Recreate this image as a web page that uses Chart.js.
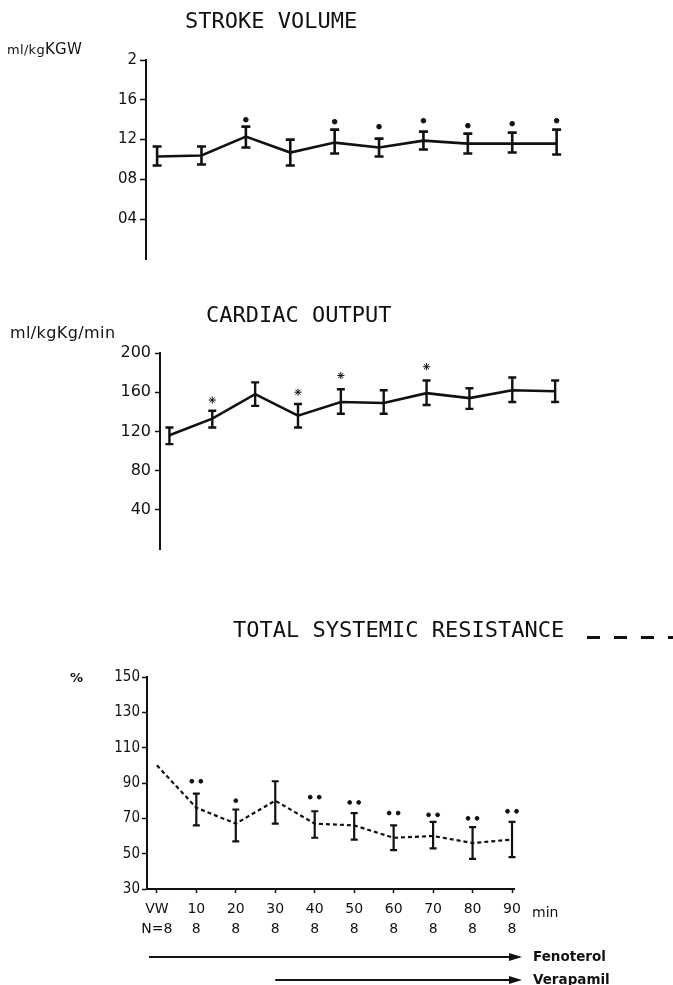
<!DOCTYPE html>
<html>
<head>
<meta charset="utf-8">
<script src="https://cdn.jsdelivr.net/npm/chart.js@4"></script>
<style>
  html, body { margin: 0; background: #fff; }
  #page { position: relative; width: 673px; height: 985px; overflow: hidden; color: #111; }
  #page canvas { position: absolute; left: 0; top: 0; }
  .t { position: absolute; white-space: nowrap; line-height: 1; }
  .title { font-size: 22px; font-family: 'DejaVu Sans Mono', monospace; }
  .unit { font-family: 'DejaVu Sans', sans-serif; }
  .drug { font: bold 13.5px 'DejaVu Sans', sans-serif; }
  .legend-dash { position: absolute; height: 3px; background: repeating-linear-gradient(90deg, #111 0 13px, transparent 13px 27px); }
</style>
</head>
<body>
<div id="page">
  <canvas id="sv" width="673" height="985"></canvas>
  <canvas id="co" width="673" height="985"></canvas>
  <canvas id="tsr" width="673" height="985"></canvas>

  <div class="t title" style="left:185px; top:10px">STROKE VOLUME</div>
  <div class="t unit" style="left:7px; top:42px; font-size:13px; letter-spacing:0.3px">ml/kg<span style="font-size:15px">KGW</span></div>

  <div class="t title" style="left:206px; top:304px">CARDIAC OUTPUT</div>
  <div class="t unit" style="left:10px; top:325px; font-size:16px; letter-spacing:0.4px">ml/kgKg/min</div>

  <div class="t title" style="left:233px; top:619px">TOTAL SYSTEMIC RESISTANCE</div>
  <div class="legend-dash" style="left:587px; top:636px; width:86px"></div>
  <div class="t unit" style="left:70px; top:671px; font-size:13px; font-weight:bold">%</div>
  <div class="t unit" style="left:532px; top:905px; font-size:14px">min</div>

  <div class="t drug" style="left:533px; top:948px">Fenoterol</div>
  <div class="t drug" style="left:533px; top:971px">Verapamil</div>
</div>
<script>
const ink = '#111';

// time points and group size
const minutes = ['VW', '10', '20', '30', '40', '50', '60', '70', '80', '90'];
const groupN = ['N=8', '8', '8', '8', '8', '8', '8', '8', '8', '8'];

// stroke volume (ml/kg KGW): mean, error bar ends, significance dot heights
const svMean  = [1.03, 1.04, 1.23, 1.07, 1.17, 1.12, 1.19, 1.16, 1.16, 1.16];
const svUpper = [1.13, 1.13, 1.33, 1.20, 1.30, 1.21, 1.28, 1.26, 1.27, 1.30];
const svLower = [0.94, 0.95, 1.12, 0.94, 1.06, 1.03, 1.10, 1.06, 1.07, 1.05];
const svMarks = [null, null, 1.40, null, 1.38, 1.33, 1.39, 1.34, 1.36, 1.39];
const svTicks = [0.4, 0.8, 1.2, 1.6, 2];
const svTickLabels = ['04', '08', '12', '16', '2'];

// cardiac output (ml/kg/min)
const coMean  = [116, 133, 158, 136, 150, 149, 159, 154, 162, 161];
const coUpper = [124, 141, 170, 148, 163, 162, 172, 164, 175, 172];
const coLower = [107, 124, 146, 124, 138, 138, 147, 143, 150, 150];
const coMarks = [null, 152, null, 160, 177, null, 186, null, null, null];
const coTicks = [40, 80, 120, 160, 200];
const coTickLabels = ['40', '80', '120', '160', '200'];

// total systemic resistance (% of baseline)
const tsrMean  = [100, 76, 67, 80, 67, 66, 59, 60, 56, 58];
const tsrUpper = [null, 84, 75, 91, 74, 73, 66, 68, 65, 68];
const tsrLower = [null, 66, 57, 67, 59, 58, 52, 53, 47, 48];
const tsrMarks = [null, 91, 80, null, 82, 79, 73, 72, 70, 74];
const tsrMarkCount = [0, 2, 1, 0, 2, 2, 2, 2, 2, 2];
const tsrTicks = [30, 50, 70, 90, 110, 130, 150];
const tsrTickLabels = ['30', '50', '70', '90', '110', '130', '150'];

// drug infusions, start given in time-point index
const drugs = [{ name: 'Fenoterol', from: -0.2 }, { name: 'Verapamil', from: 3 }];

const errorBars = {
    id: 'errorBars',
    afterDatasetsDraw(chart, args, o) {
        if(!o.upper) return;
        const { ctx, scales: { x, y } } = chart;
        ctx.save(); ctx.strokeStyle = ink; ctx.lineWidth = o.width;
        o.upper.forEach((hi, i) => {
            if(hi == null) return;
            const px = x.getPixelForValue(i), top = y.getPixelForValue(hi), bot = y.getPixelForValue(o.lower[i]), c = o.cap / 2;
            ctx.beginPath();
            ctx.moveTo(px, top); ctx.lineTo(px, bot);
            ctx.moveTo(px - c, top); ctx.lineTo(px + c, top);
            ctx.moveTo(px - c, bot); ctx.lineTo(px + c, bot);
            ctx.stroke();
        });
        ctx.restore();
    }
};

const sigMarks = {
    id: 'sigMarks',
    afterDatasetsDraw(chart, args, o) {
        if(!o.values) return;
        const { ctx, scales: { x, y } } = chart;
        ctx.save(); ctx.fillStyle = ink; ctx.strokeStyle = ink;
        o.values.forEach((v, i) => {
            if(v == null) return;
            const n = o.count ? o.count[i] : 1;
            for(let k = 0; k < n; k++) {
                const px = x.getPixelForValue(i) + (k - (n - 1) / 2) * o.spread;
                Chart.helpers.drawPoint(ctx, { pointStyle: o.style, radius: o.radius, borderWidth: o.borderWidth || 1 }, px, y.getPixelForValue(v));
            }
        });
        ctx.restore();
    }
};

const drugArrows = {
    id: 'drugArrows',
    afterDraw(chart, args, o) {
        if(!o.items) return;
        const { ctx, chartArea, scales: { x } } = chart;
        const tip = chartArea.right + 8;
        ctx.save(); ctx.strokeStyle = ink; ctx.fillStyle = ink; ctx.lineWidth = 2;
        o.items.forEach((d, i) => {
            const yy = o.rows[i];
            ctx.beginPath(); ctx.moveTo(x.getPixelForValue(d.from), yy); ctx.lineTo(tip - 10, yy); ctx.stroke();
            ctx.beginPath(); ctx.moveTo(tip - 13, yy - 4); ctx.lineTo(tip, yy); ctx.lineTo(tip - 13, yy + 4); ctx.closePath(); ctx.fill();
        });
        ctx.restore();
    }
};

function yAxis({ min, max, ticks, labels, width, font, tickLength, padding }) {
    return {
        type: 'linear', min, max,
        afterBuildTicks: s => { s.ticks = ticks.map(value => ({ value })); },
        afterFit: s => { s.width = width; },
        grid: { drawOnChartArea: false, tickLength, tickColor: ink, tickWidth: 1.5 },
        border: { display: true, color: ink, width: 2 },
        ticks: { color: ink, font, padding, callback: (v, i) => labels[i] },
    };
}

function panel(id, { mean, dash, bars, marks, x, y, padding, extra }) {
    return new Chart(document.getElementById(id), {
        type: 'line',
        data: {
            datasets: [{
                data: mean.map((v, i) => ({ x: i, y: v })),
                borderColor: ink, borderWidth: dash ? 2.2 : 2.6, borderDash: dash || [],
                pointRadius: 0, tension: 0,
            }],
        },
        options: {
            responsive: false, animation: false, events: [],
            layout: { padding, autoPadding: false },
            scales: { x, y },
            plugins: { legend: { display: false }, tooltip: { enabled: false }, errorBars: bars, sigMarks: marks, drugArrows: extra || {} },
        },
        plugins: [errorBars, sigMarks, drugArrows],
    });
}

const hiddenX = (min, max) => ({ type: 'linear', min, max, display: false });

panel('sv', {
    mean: svMean,
    bars: { upper: svUpper, lower: svLower, cap: 9, width: 2.6 },
    marks: { values: svMarks, style: 'circle', radius: 2.3, spread: 0 },
    x: hiddenX(-0.25, 10),
    y: yAxis({ min: 0, max: 2, ticks: svTicks, labels: svTickLabels, width: 146, font: { family: 'DejaVu Sans', size: 15 }, tickLength: 6, padding: 3 }),
    padding: { left: 0, right: 72, top: 60, bottom: 726 },
});

panel('co', {
    mean: coMean,
    bars: { upper: coUpper, lower: coLower, cap: 8, width: 2.4 },
    marks: { values: coMarks, style: 'star', radius: 3.6, borderWidth: 2.2, spread: 0 },
    x: hiddenX(-0.22, 10),
    y: yAxis({ min: 0, max: 200, ticks: coTicks, labels: coTickLabels, width: 160, font: { family: 'DejaVu Sans', size: 16 }, tickLength: 5, padding: 4 }),
    padding: { left: 0, right: 75, top: 353, bottom: 436 },
});

panel('tsr', {
    mean: tsrMean, dash: [4, 3],
    bars: { upper: tsrUpper, lower: tsrLower, cap: 7, width: 2.2 },
    marks: { values: tsrMarks, count: tsrMarkCount, style: 'circle', radius: 1.9, spread: 9 },
    x: {
        type: 'linear', min: -0.25, max: 9.05,
        afterBuildTicks: s => { s.ticks = minutes.map((m, i) => ({ value: i })); },
        afterFit: s => { s.height = 60; },
        grid: { drawOnChartArea: false, tickLength: 4, tickColor: ink, tickWidth: 1.5 },
        border: { display: true, color: ink, width: 2 },
        ticks: { color: ink, font: { family: 'DejaVu Sans', size: 14, lineHeight: 1.45 }, padding: 6, maxRotation: 0, autoSkip: false,
                 callback: (v) => [minutes[v], groupN[v]] },
    },
    y: yAxis({ min: 30, max: 150, ticks: tsrTicks, labels: tsrTickLabels, width: 147, font: { family: "'DejaVu Sans Condensed', 'Liberation Sans Narrow', sans-serif", size: 15 }, tickLength: 5, padding: 2 }),
    padding: { left: 0, right: 159, top: 677, bottom: 36 },
    extra: { items: drugs, rows: [957, 980] },
});
</script>
</body>
</html>
